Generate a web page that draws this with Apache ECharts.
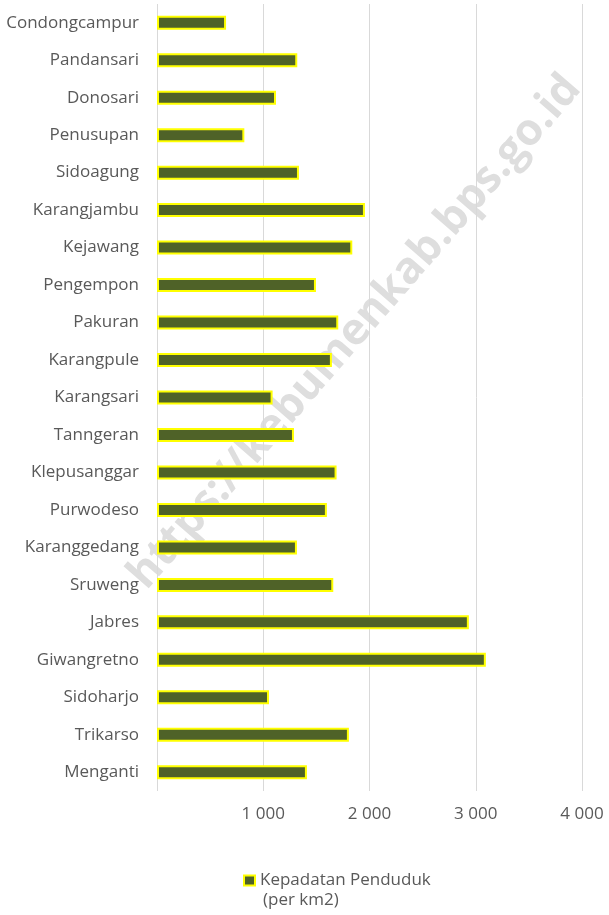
<!DOCTYPE html>
<html>
<head>
<meta charset="utf-8">
<script src="https://cdn.jsdelivr.net/npm/echarts@6/dist/echarts.min.js"></script>
<style>
    html, body { margin: 0; padding: 0; background: #fff; }
    #chart { width: 609px; height: 915px; }
</style>
</head>
<body>
<div id="chart"></div>
<script>
    // desa / kelurahan, dari atas ke bawah
    const categories = ['Condongcampur', 'Pandansari', 'Donosari', 'Penusupan', 'Sidoagung',
        'Karangjambu', 'Kejawang', 'Pengempon', 'Pakuran', 'Karangpule', 'Karangsari',
        'Tanngeran', 'Klepusanggar', 'Purwodeso', 'Karanggedang', 'Sruweng', 'Jabres',
        'Giwangretno', 'Sidoharjo', 'Trikarso', 'Menganti']
    const density = [650, 1320, 1120, 822, 1336, 1957, 1838, 1496, 1706, 1646, 1088,
        1289, 1690, 1599, 1317, 1659, 2935, 3095, 1054, 1806, 1411]
    const xTicks = [0, 1000, 2000, 3000, 4000]
    const seriesName = 'Kepadatan Penduduk'
    const seriesUnit = '(per km2)'

    const chart = echarts.init(document.getElementById('chart'))
    const fontFamily = '"Open Sans", sans-serif'
    const textColor = '#595959'

    chart.setOption({
        animation: false,
        grid: {
            left: 157,
            right: 27,
            top: 4,
            bottom: 124
        },
        legend: {
            data: [seriesName],
            left: 243,
            top: 872,
            padding: 0,
            itemWidth: 11,
            itemHeight: 10,
            icon: 'rect',
            textStyle: {
                color: textColor,
                fontSize: 17,
                fontFamily: fontFamily
            }
        },
        xAxis: {
            type: 'value',
            min: xTicks[0],
            max: xTicks[xTicks.length - 1],
            interval: xTicks[1] - xTicks[0],
            axisLine: { show: false },
            axisTick: { show: false },
            splitLine: {
                lineStyle: { color: '#d9d9d9', width: 1 }
            },
            axisLabel: {
                color: textColor,
                fontSize: 17,
                fontFamily: fontFamily,
                margin: 15,
                formatter: function (v) {
                    if (v === 0) return ''
                    return String(v).replace(/\B(?=(\d{3})+(?!\d))/g, ' ')
                }
            }
        },
        yAxis: {
            type: 'category',
            inverse: true,
            data: categories,
            axisLine: { show: false },
            axisTick: { show: false },
            axisLabel: {
                color: textColor,
                fontSize: 17,
                fontFamily: fontFamily,
                margin: 18
            }
        },
        graphic: [
            {
                // watermark
                type: 'text',
                z: -10,
                x: 355,
                y: 332,
                rotation: 49 * Math.PI / 180,
                style: {
                    text: 'https://kebumenkab.bps.go.id',
                    fill: '#dedede',
                    font: 'bold 44px "Open Sans", sans-serif',
                    align: 'center',
                    verticalAlign: 'middle'
                }
            },
            {
                type: 'text',
                left: 263,
                top: 892,
                style: {
                    text: seriesUnit,
                    fill: textColor,
                    font: '17px "Open Sans", sans-serif'
                }
            }
        ],
        series: [
            {
                name: seriesName,
                type: 'bar',
                barWidth: 14,
                z: 5,
                itemStyle: {
                    color: '#4f6228',
                    borderColor: '#ffff00',
                    borderWidth: 2
                },
                data: density
            }
        ]
    })
</script>
</body>
</html>
